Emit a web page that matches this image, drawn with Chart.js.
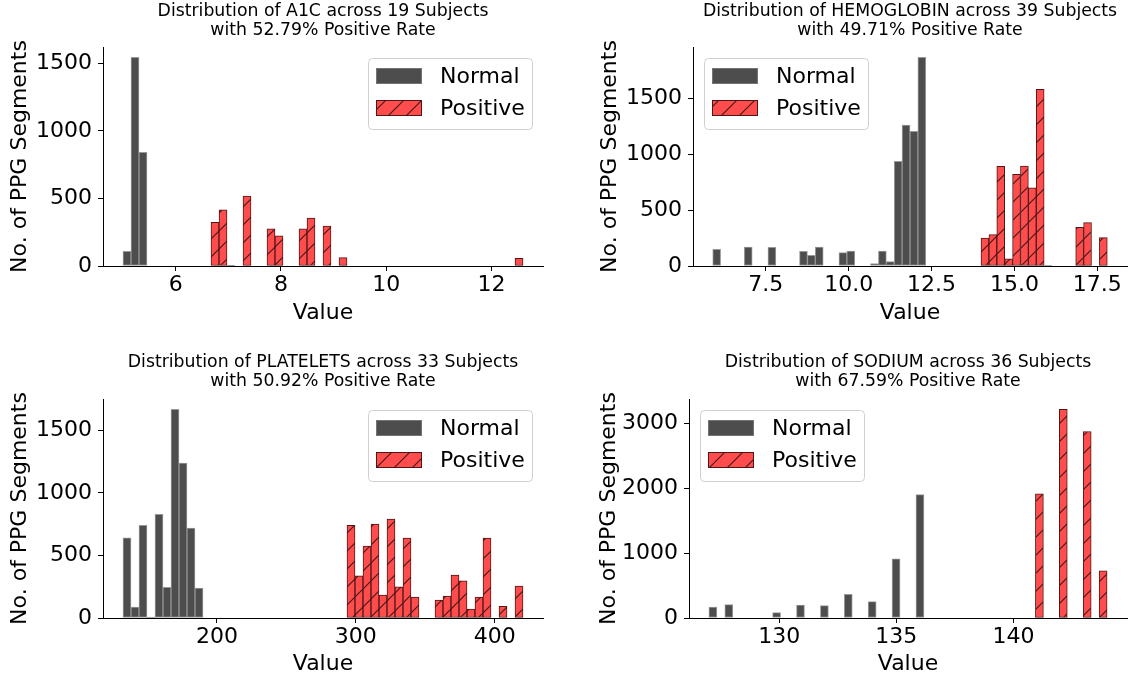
<!DOCTYPE html>
<html>
<head>
<meta charset="utf-8">
<script src="https://cdn.jsdelivr.net/npm/chart.js@4.4.0/dist/chart.umd.min.js"></script>
<style>
  body { margin: 0; background: #fff; }
  #wrap { position: relative; width: 1134px; height: 681px; }
  canvas { position: absolute; }
</style>
</head>
<body>
<div id="wrap">
  <canvas id="c1" width="567" height="340" style="left:0;top:0"></canvas>
  <canvas id="c2" width="567" height="340" style="left:567px;top:0"></canvas>
  <canvas id="c3" width="567" height="341" style="left:0;top:340px"></canvas>
  <canvas id="c4" width="567" height="341" style="left:567px;top:340px"></canvas>
</div>
<script>
// every histogram uses 50 bins over its own range
const binCount = 50;

// A1C
const a1cRange = [5.0, 12.6];
const a1cNormalBins = [0, 1, 2, 13];
const a1cNormalCounts = [108, 1544, 842, 5];
const a1cPositiveBins = [11, 12, 15, 18, 19, 22, 23, 25, 27, 49];
const a1cPositiveCounts = [323, 416, 517, 276, 224, 276, 355, 296, 62, 57];
const a1cXTicks = [6, 8, 10, 12];
const a1cYTicks = [0, 500, 1000, 1500];

// HEMOGLOBIN
const hgbRange = [5.9, 17.8];
const hgbNormalBins = [0, 4, 7, 11, 12, 13, 16, 17, 20, 21, 22, 23, 24, 25, 26, 42];
const hgbNormalCounts = [149, 170, 167, 131, 95, 170, 119, 134, 21, 134, 39, 934, 1259, 1202, 1863, 5];
const hgbPositiveBins = [34, 35, 36, 37, 38, 39, 40, 41, 46, 47, 49];
const hgbPositiveCounts = [250, 280, 890, 65, 818, 893, 699, 1577, 345, 387, 253];
const hgbXTicks = [7.5, 10, 12.5, 15, 17.5];
const hgbYTicks = [0, 500, 1000, 1500];

// PLATELETS
const pltRange = [132.4, 420.4];
const pltNormalBins = [0, 1, 2, 3, 4, 5, 6, 7, 8, 9];
const pltNormalCounts = [642, 88, 741, 8, 829, 245, 1668, 1239, 719, 240];
const pltPositiveBins = [28, 29, 30, 31, 32, 33, 34, 35, 36, 39, 40, 41, 42, 43, 44, 45, 47, 49];
const pltPositiveCounts = [741, 338, 575, 751, 184, 791, 250, 639, 168, 144, 176, 344, 298, 72, 168, 639, 93, 256];
const pltXTicks = [200, 300, 400];
const pltYTicks = [0, 500, 1000, 1500];

// SODIUM
const naRange = [127, 144];
const naNormalBins = [0, 2, 8, 11, 14, 17, 20, 23, 26];
const naNormalCounts = [170, 206, 82, 201, 190, 365, 252, 911, 1904];
const naPositiveBins = [41, 44, 47, 49];
const naPositiveCounts = [1915, 3217, 2877, 726];
const naXTicks = [130, 135, 140];
const naYTicks = [0, 1000, 2000, 3000];

const FONT = '"DejaVu Sans", sans-serif';
const BIG = 22;

function hatchPattern() {
  const s = 18;
  const c = document.createElement('canvas');
  c.width = s; c.height = s;
  const g = c.getContext('2d');
  g.fillStyle = 'rgb(255,77,77)';
  g.fillRect(0, 0, s, s);
  g.strokeStyle = 'rgb(77,23,23)';
  g.lineWidth = 1.2;
  g.beginPath();
  g.moveTo(0, s); g.lineTo(s, 0);
  g.moveTo(-2, 2); g.lineTo(2, -2);
  g.moveTo(s - 2, s + 2); g.lineTo(s + 2, s - 2);
  g.stroke();
  return g.createPattern(c, 'repeat');
}

function fullBins(range, bins, counts) {
  const w = (range[1] - range[0]) / binCount;
  const out = [];
  for (let i = 0; i < binCount; i++) out.push({ x: range[0] + (i + 0.5) * w, y: null });
  bins.forEach((b, k) => { out[b].y = counts[k]; });
  return out;
}

// legend drawn inside the plot, like matplotlib's framed legend
const boxLegend = {
  id: 'boxLegend',
  afterDatasetsDraw(chart, args, opts) {
    const { ctx, chartArea } = chart;
    const w = 164, h = 71;
    const x = Math.round(opts.side === 'right' ? chartArea.right - 11 - w : chartArea.left + 11);
    const y = Math.round(chartArea.top + 11);
    ctx.save();
    ctx.fillStyle = 'rgba(255,255,255,0.8)';
    ctx.strokeStyle = '#d0d0d0';
    ctx.lineWidth = 1;
    ctx.beginPath();
    ctx.roundRect(x + 0.5, y + 0.5, w, h, 4);
    ctx.fill();
    ctx.stroke();
    chart.data.datasets.forEach((ds, i) => {
      const sy = y + 10 + i * 32;
      ctx.fillStyle = ds.backgroundColor;
      ctx.fillRect(x + 8, sy, 46, 16);
      ctx.strokeStyle = ds.borderColor;
      ctx.strokeRect(x + 8.5, sy + 0.5, 45, 15);
      ctx.fillStyle = '#000';
      ctx.font = BIG + 'px ' + FONT;
      ctx.textBaseline = 'middle';
      ctx.textAlign = 'left';
      ctx.fillText(ds.label, x + 72, sy + 9);
    });
    ctx.restore();
  }
};

function makeChart(id, p) {
  const span = p.range[1] - p.range[0];
  const ymax = 1.05 * Math.max(...p.normalCounts, ...p.positiveCounts);
  new Chart(document.getElementById(id), {
    type: 'bar',
    data: {
      datasets: [{
        label: 'Normal',
        data: fullBins(p.range, p.normalBins, p.normalCounts),
        backgroundColor: 'rgb(77,77,77)',
        borderColor: 'rgba(128,128,128,0.8)',
        borderWidth: 1,
        borderSkipped: false
      }, {
        label: 'Positive',
        data: fullBins(p.range, p.positiveBins, p.positiveCounts),
        backgroundColor: hatchPattern(),
        borderColor: 'rgb(77,23,23)',
        borderWidth: 1,
        borderSkipped: false
      }]
    },
    options: {
      responsive: false,
      animation: false,
      grouped: false,
      barPercentage: 1,
      categoryPercentage: 1,
      layout: { padding: { left: 0, top: 0, right: p.padRight, bottom: 0 } },
      plugins: {
        legend: { display: false },
        tooltip: { enabled: false },
        title: {
          display: true,
          text: p.title,
          fullSize: false,
          color: '#000',
          font: { family: FONT, size: 17.3, weight: 'normal', lineHeight: 19 / 17.3 },
          padding: p.titlePad
        },
        boxLegend: { side: p.legendSide }
      },
      scales: {
        x: {
          type: 'linear',
          min: p.range[0] - 0.05 * span,
          max: p.range[1] + 0.05 * span,
          offset: false,
          grid: { display: true, drawOnChartArea: false, drawTicks: true, tickLength: 5, color: '#000', offset: false },
          border: { display: true, color: '#000', width: 1 },
          ticks: {
            color: '#000', padding: 1, autoSkip: false, maxRotation: 0,
            font: { family: FONT, size: BIG },
            callback: p.xFmt || (v => String(v))
          },
          title: {
            display: true, text: 'Value', color: '#000',
            font: { family: FONT, size: BIG },
            padding: { top: 0, bottom: p.xTitlePad }
          },
          afterBuildTicks: s => { s.ticks = p.xTicks.map(v => ({ value: v })); },
          afterFit: s => { s.height = p.xAxisH; }
        },
        y: {
          min: 0,
          max: ymax,
          grid: { display: true, drawOnChartArea: false, drawTicks: true, tickLength: 5, color: '#000' },
          border: { display: true, color: '#000', width: 1 },
          ticks: {
            color: '#000', padding: 6,
            font: { family: FONT, size: BIG },
            callback: v => String(v)
          },
          title: {
            display: true, text: 'No. of PPG Segments', color: '#000',
            font: { family: FONT, size: BIG },
            padding: { top: p.yTitlePad, bottom: 0 }
          },
          afterBuildTicks: s => { s.ticks = p.yTicks.map(v => ({ value: v })); },
          afterFit: s => { s.width = p.yAxisW; }
        }
      }
    },
    plugins: [boxLegend]
  });
}

makeChart('c1', {
  range: a1cRange, normalBins: a1cNormalBins, normalCounts: a1cNormalCounts,
  positiveBins: a1cPositiveBins, positiveCounts: a1cPositiveCounts,
  xTicks: a1cXTicks, yTicks: a1cYTicks,
  title: ['Distribution of A1C across 19 Subjects', 'with 52.79% Positive Rate'],
  padRight: 24, yAxisW: 103, xAxisH: 74, titlePad: { top: 2.5, bottom: 6.5 },
  yTitlePad: 7, xTitlePad: 13.5, legendSide: 'right'
});

makeChart('c2', {
  range: hgbRange, normalBins: hgbNormalBins, normalCounts: hgbNormalCounts,
  positiveBins: hgbPositiveBins, positiveCounts: hgbPositiveCounts,
  xTicks: hgbXTicks, yTicks: hgbYTicks, xFmt: v => v.toFixed(1),
  title: ['Distribution of HEMOGLOBIN across 39 Subjects', 'with 49.71% Positive Rate'],
  padRight: 7, yAxisW: 126, xAxisH: 74, titlePad: { top: 2.5, bottom: 6.5 },
  yTitlePad: 30, xTitlePad: 13.5, legendSide: 'left'
});

makeChart('c3', {
  range: pltRange, normalBins: pltNormalBins, normalCounts: pltNormalCounts,
  positiveBins: pltPositiveBins, positiveCounts: pltPositiveCounts,
  xTicks: pltXTicks, yTicks: pltYTicks,
  title: ['Distribution of PLATELETS across 33 Subjects', 'with 50.92% Positive Rate'],
  padRight: 24, yAxisW: 103, xAxisH: 63, titlePad: { top: 13.5, bottom: 7.5 },
  yTitlePad: 7, xTitlePad: 3.5, legendSide: 'right'
});

makeChart('c4', {
  range: naRange, normalBins: naNormalBins, normalCounts: naNormalCounts,
  positiveBins: naPositiveBins, positiveCounts: naPositiveCounts,
  xTicks: naXTicks, yTicks: naYTicks,
  title: ['Distribution of SODIUM across 36 Subjects', 'with 67.59% Positive Rate'],
  padRight: 7, yAxisW: 122, xAxisH: 63, titlePad: { top: 13.5, bottom: 7.5 },
  yTitlePad: 29, xTitlePad: 3.5, legendSide: 'left'
});
</script>
</body>
</html>
